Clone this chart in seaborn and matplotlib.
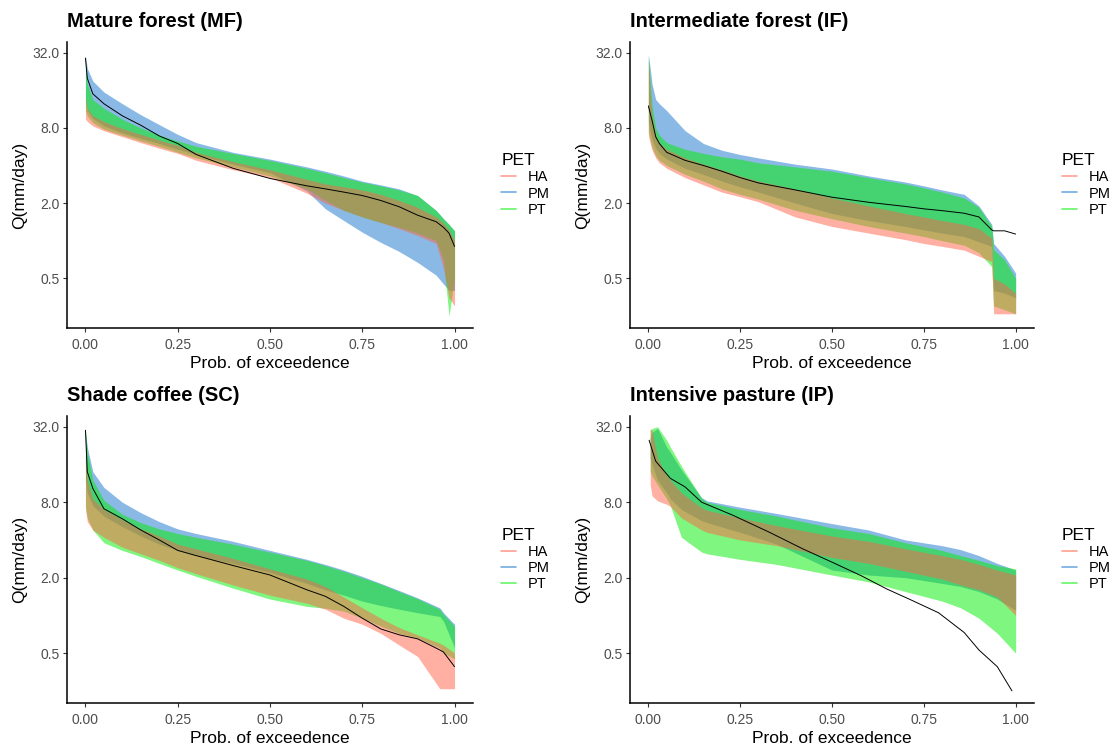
import numpy as np
import pandas as pd
import matplotlib
matplotlib.use("Agg")
import matplotlib.pyplot as plt
from matplotlib.lines import Line2D
import seaborn as sns

# ---------------- data ----------------
METHODS = ["HA", "PM", "PT"]
TITLES = ["Mature forest (MF)", "Intermediate forest (IF)",
          "Shade coffee (SC)", "Intensive pasture (IP)"]
Y_TICKS = [0.5, 2.0, 8.0, 32.0]
Y_TICK_LABELS = ["0.5", "2.0", "8.0", "32.0"]
X_TICKS = [0.0, 0.25, 0.5, 0.75, 1.0]
X_TICK_LABELS = ["0.00", "0.25", "0.50", "0.75", "1.00"]

# Mature forest
X_MF = [0, 0.005, 0.02, 0.05, 0.1, 0.15, 0.2, 0.25, 0.3, 0.4, 0.5, 0.6, 0.65, 0.7, 0.75, 0.8, 0.85, 0.9, 0.95, 0.97, 0.985, 1.0]
MF_HA_HI = [14, 11.5, 10, 9, 7.9, 7.1, 6.4, 5.8, 5.1, 4.3, 3.7, 3.1, 2.85, 2.7, 2.55, 2.35, 2.1, 1.85, 1.55, 1.38, 1.22, 1.0]
MF_HA_LO = [9.5, 9.0, 8.3, 7.6, 6.8, 6.1, 5.5, 5.0, 4.4, 3.7, 3.2, 2.4, 2.0, 1.75, 1.55, 1.4, 1.25, 1.1, 0.95, 0.6, 0.35, 0.3]
MF_PM_HI = [30, 24, 19, 15.5, 12.5, 10.2, 8.5, 7.1, 6.1, 5.1, 4.5, 3.9, 3.6, 3.3, 3.0, 2.8, 2.6, 2.3, 1.75, 1.5, 1.35, 1.2]
MF_PM_LO = [13, 11, 9.5, 8.3, 7.3, 6.6, 6.0, 5.4, 4.9, 4.1, 3.5, 2.5, 1.8, 1.45, 1.17, 0.97, 0.82, 0.67, 0.53, 0.45, 0.4, 0.4]
MF_PT_HI = [27, 18, 13.5, 11.5, 9.4, 8.0, 7.0, 6.3, 5.7, 5.0, 4.4, 3.8, 3.5, 3.2, 2.95, 2.75, 2.55, 2.3, 1.75, 1.5, 1.35, 1.2]
MF_PT_LO = [11, 10, 8.8, 7.8, 7.0, 6.3, 5.7, 5.1, 4.6, 3.9, 3.3, 2.6, 2.1, 1.75, 1.55, 1.4, 1.28, 1.15, 1.0, 0.7, 0.25, 0.5]
MF_OBS = [29, 20, 15, 12.5, 10, 8.4, 6.9, 6.0, 4.9, 3.8, 3.15, 2.75, 2.6, 2.45, 2.3, 2.1, 1.87, 1.6, 1.42, 1.28, 1.15, 0.9]

# Intermediate forest
X_IF = [0, 0.005, 0.01, 0.02, 0.03, 0.05, 0.1, 0.15, 0.2, 0.25, 0.3, 0.4, 0.5, 0.6, 0.7, 0.75, 0.8, 0.86, 0.9, 0.935, 0.94, 0.97, 1.0]
IF_HA_HI = [28, 16, 10, 7.0, 6.0, 5.4, 4.6, 4.1, 3.7, 3.3, 3.0, 2.6, 2.2, 1.9, 1.65, 1.55, 1.45, 1.35, 1.25, 1.05, 0.5, 0.45, 0.38]
IF_HA_LO = [7.0, 6.0, 5.3, 4.6, 4.2, 3.8, 3.2, 2.8, 2.45, 2.25, 2.05, 1.55, 1.3, 1.15, 1.02, 0.95, 0.9, 0.84, 0.75, 0.68, 0.26, 0.26, 0.26]
IF_PM_HI = [31, 24, 18, 13.5, 12.5, 11, 7.6, 6.0, 5.3, 4.9, 4.6, 4.1, 3.75, 3.3, 2.95, 2.75, 2.55, 2.35, 1.9, 1.35, 0.95, 0.75, 0.55]
IF_PM_LO = [9, 7.5, 6.5, 5.5, 5.0, 4.5, 3.8, 3.4, 3.0, 2.7, 2.45, 2.0, 1.65, 1.45, 1.3, 1.22, 1.15, 1.08, 0.98, 0.9, 0.4, 0.38, 0.35]
IF_PT_HI = [30, 19, 12, 8.0, 7.0, 6.1, 5.4, 5.0, 4.7, 4.5, 4.2, 3.9, 3.6, 3.2, 2.85, 2.65, 2.45, 2.2, 1.85, 1.3, 0.85, 0.7, 0.5]
IF_PT_LO = [7.5, 6.4, 5.6, 4.8, 4.4, 4.0, 3.4, 3.0, 2.6, 2.35, 2.15, 1.75, 1.5, 1.3, 1.15, 1.08, 1.0, 0.92, 0.8, 0.62, 0.3, 0.28, 0.26]
IF_OBS = [12, 10.5, 9.2, 6.8, 6.0, 5.1, 4.4, 4.0, 3.6, 3.2, 2.9, 2.55, 2.23, 2.03, 1.88, 1.8, 1.74, 1.66, 1.55, 1.22, 1.2, 1.2, 1.13]

# Shade coffee
X_SC = [0, 0.005, 0.02, 0.05, 0.1, 0.15, 0.2, 0.25, 0.3, 0.4, 0.5, 0.6, 0.65, 0.7, 0.75, 0.8, 0.85, 0.9, 0.96, 0.97, 1.0]
SC_HA_HI = [20, 12, 8.5, 7.0, 5.8, 4.9, 4.3, 3.7, 3.4, 2.85, 2.35, 1.95, 1.7, 1.4, 1.15, 0.95, 0.8, 0.7, 0.6, 0.58, 0.5]
SC_HA_LO = [7, 5.6, 4.8, 4.2, 3.5, 3.1, 2.75, 2.4, 2.15, 1.75, 1.45, 1.25, 1.12, 0.95, 0.85, 0.72, 0.58, 0.47, 0.26, 0.26, 0.26]
SC_PM_HI = [29, 22, 14, 10.5, 8.0, 6.6, 5.6, 4.9, 4.5, 3.9, 3.3, 2.8, 2.55, 2.3, 2.05, 1.8, 1.58, 1.38, 1.15, 1.05, 0.85]
SC_PM_LO = [12, 9.5, 7.5, 6.2, 5.1, 4.3, 3.7, 3.3, 3.0, 2.6, 2.2, 1.8, 1.6, 1.45, 1.3, 1.2, 1.12, 1.05, 0.98, 0.9, 0.55]
SC_PT_HI = [31, 20, 12, 8.3, 6.4, 5.5, 4.9, 4.5, 4.2, 3.7, 3.2, 2.75, 2.5, 2.25, 2.0, 1.78, 1.55, 1.36, 1.12, 1.02, 0.82]
SC_PT_LO = [7.5, 6.0, 4.8, 3.8, 3.3, 2.95, 2.6, 2.3, 2.05, 1.65, 1.35, 1.18, 1.14, 1.08, 0.95, 0.82, 0.72, 0.66, 0.55, 0.5, 0.45]
SC_OBS = [30, 14, 10.3, 7.1, 5.9, 4.8, 4.0, 3.3, 3.0, 2.5, 2.1, 1.6, 1.42, 1.18, 0.95, 0.78, 0.7, 0.65, 0.53, 0.51, 0.39]

# Intensive pasture
X_IP = [0.005, 0.01, 0.025, 0.05, 0.06, 0.09, 0.145, 0.16, 0.25, 0.35, 0.5, 0.6, 0.7, 0.8, 0.85, 0.9, 0.95, 1.0]
IP_HA_HI = [31, 30, 18, 13, 12, 9.5, 7.2, 6.9, 6.0, 5.2, 4.3, 3.9, 3.4, 3.0, 2.8, 2.55, 2.3, 2.1]
IP_HA_LO = [11, 9, 8.2, 7.7, 7.4, 6.0, 4.8, 4.6, 4.0, 3.6, 2.9, 2.6, 2.25, 1.95, 1.75, 1.6, 1.4, 1.0]
IP_PM_HI = [26, 29, 31, 22, 20, 14.5, 8.7, 8.2, 7.3, 6.5, 5.4, 4.8, 4.0, 3.6, 3.35, 3.0, 2.6, 2.3]
IP_PM_LO = [18, 16, 12, 9.5, 8.5, 7.0, 5.7, 5.5, 4.6, 3.7, 2.3, 2.1, 2.0, 1.8, 1.7, 1.55, 1.35, 1.1]
IP_PT_HI = [30, 31, 32, 25, 22, 15.5, 8.6, 8.0, 7.0, 6.2, 5.0, 4.5, 3.8, 3.3, 3.0, 2.75, 2.5, 2.35]
IP_PT_LO = [14, 13, 11, 8.5, 7.5, 4.2, 3.2, 3.1, 2.8, 2.55, 2.1, 1.85, 1.55, 1.3, 1.15, 0.95, 0.72, 0.5]
X_IP_OBS = [0.002, 0.02, 0.06, 0.1, 0.145, 0.23, 0.33, 0.42, 0.5, 0.58, 0.65, 0.71, 0.79, 0.86, 0.9, 0.95, 0.99]
IP_OBS = [25, 17, 12.4, 10.6, 8.0, 6.3, 4.6, 3.4, 2.66, 2.07, 1.62, 1.35, 1.05, 0.73, 0.53, 0.39, 0.25]

# ---------------- assemble ----------------
panels = [
    dict(x=X_MF, HA=(MF_HA_LO, MF_HA_HI), PM=(MF_PM_LO, MF_PM_HI), PT=(MF_PT_LO, MF_PT_HI), xo=X_MF, obs=MF_OBS),
    dict(x=X_IF, HA=(IF_HA_LO, IF_HA_HI), PM=(IF_PM_LO, IF_PM_HI), PT=(IF_PT_LO, IF_PT_HI), xo=X_IF, obs=IF_OBS),
    dict(x=X_SC, HA=(SC_HA_LO, SC_HA_HI), PM=(SC_PM_LO, SC_PM_HI), PT=(SC_PT_LO, SC_PT_HI), xo=X_SC, obs=SC_OBS),
    dict(x=X_IP, HA=(IP_HA_LO, IP_HA_HI), PM=(IP_PM_LO, IP_PM_HI), PT=(IP_PT_LO, IP_PT_HI), xo=X_IP_OBS, obs=IP_OBS),
]

COLORS = {"HA": "#FF6347", "PM": "#1874CD", "PT": "#00EE00"}
DRAW_ORDER = ["PM", "PT", "HA"]

sns.set_theme(style="ticks")
plt.rcParams["font.family"] = ["Liberation Sans", "DejaVu Sans"]
plt.rcParams["text.color"] = "black"
plt.rcParams["axes.labelcolor"] = "black"

W, H = 1110, 744
fig = plt.figure(figsize=(W / 100, H / 100), dpi=100)
fig.patch.set_facecolor("white")

# axes boxes in pixels: (left, top, right, bottom)
boxes = [(67, 42, 473, 328), (630, 42, 1034, 328),
         (67, 416, 473, 703), (630, 416, 1034, 703)]

for p, title, (l, t, r, b) in zip(panels, TITLES, boxes):
    ax = fig.add_axes([l / W, 1 - b / H, (r - l) / W, (b - t) / H])
    for m in DRAW_ORDER:
        lo, hi = p[m]
        ax.fill_between(p["x"], lo, hi, color=COLORS[m], alpha=0.5, lw=0)
    df = pd.DataFrame({"x": p["xo"], "q": p["obs"]})
    sns.lineplot(data=df, x="x", y="q", ax=ax, color="black", lw=0.7,
                 estimator=None, sort=False)
    ax.set_yscale("log", base=2)
    ax.set_ylim(0.2, 39)
    ax.set_xlim(-0.05, 1.05)
    ax.set_yticks(Y_TICKS)
    ax.set_yticklabels(Y_TICK_LABELS)
    ax.minorticks_off()
    ax.set_xticks(X_TICKS)
    ax.set_xticklabels(X_TICK_LABELS)
    ax.tick_params(axis="both", labelsize=10, labelcolor="#4D4D4D", color="#333333",
                   length=3, width=0.8)
    ax.tick_params(axis="x", pad=4)
    ax.tick_params(axis="y", pad=2.5)
    for s in ["top", "right"]:
        ax.spines[s].set_visible(False)
    for s in ["left", "bottom"]:
        ax.spines[s].set_color("black")
        ax.spines[s].set_linewidth(1.1)
    ax.set_xlabel("Prob. of exceedence", fontsize=12.5, color="black", labelpad=3)
    ax.set_ylabel("Q(mm/day)", fontsize=12.5, color="black", labelpad=4)
    ax.set_title(title, fontsize=14.5, fontweight="bold", loc="left", pad=11,
                 x=0.0, color="black")
    ax.set_facecolor("white")

    handles = [Line2D([0], [0], color=COLORS[m], alpha=0.6, lw=1.2) for m in METHODS]
    leg = ax.legend(handles, METHODS, title="PET", loc="center left",
                    bbox_to_anchor=(1.055, 0.5), frameon=False, fontsize=10.5,
                    title_fontsize=12.5, handlelength=1.0, handletextpad=0.8,
                    labelspacing=0.15, borderaxespad=0)
    leg._legend_box.align = "left"
    for txt in leg.get_texts():
        txt.set_color("black")
    leg.get_title().set_color("black")

fig.savefig("out.png", dpi=100, facecolor="white")
